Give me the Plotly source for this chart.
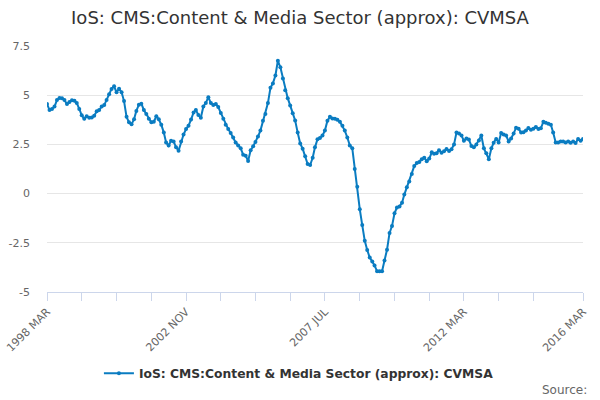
import plotly.graph_objects as go
import pandas as pd

series_name = "IoS: CMS:Content & Media Sector (approx): CVMSA"
start_month = "1998-03-01"
values = [
    4.55, 4.25, 4.3, 4.42, 4.75, 4.86, 4.85, 4.75, 4.55, 4.65,
    4.74, 4.72, 4.6, 4.3, 3.98, 3.8, 3.93, 3.85, 3.87, 3.95,
    4.18, 4.25, 4.43, 4.5, 4.75, 5.05, 5.32, 5.45, 5.15, 5.33,
    5.15, 4.7, 3.9, 3.62, 3.52, 3.78, 4.2, 4.52, 4.57, 4.25,
    4.05, 3.8, 3.62, 3.65, 3.93, 3.78, 3.5, 3.1, 2.6, 2.44,
    2.68, 2.65, 2.35, 2.18, 2.65, 3.0, 3.28, 3.45, 3.76, 4.12,
    4.25, 4.0, 3.85, 4.43, 4.6, 4.9, 4.6, 4.5, 4.55, 4.4,
    4.1, 3.8, 3.5, 3.28, 3.08, 2.85, 2.6, 2.45, 2.3, 1.98,
    1.92, 1.66, 2.2, 2.4, 2.62, 2.9, 3.2, 3.7, 4.05, 4.6,
    5.38, 5.6, 6.0, 6.75, 6.42, 5.85, 5.25, 4.85, 4.48, 4.08,
    3.72, 3.1, 2.55, 2.28, 1.9, 1.5, 1.45, 1.82, 2.35, 2.76,
    2.82, 2.95, 3.2, 3.7, 3.9, 3.82, 3.8, 3.75, 3.65, 3.45,
    3.2, 2.85, 2.45, 2.3, 1.25, 0.35, -0.8, -1.6, -2.4, -2.87,
    -3.25, -3.45, -3.65, -3.95, -3.95, -3.95, -3.4, -2.85, -2.0, -1.65,
    -1.0, -0.7, -0.65, -0.47, -0.05, 0.32, 0.62, 1.0, 1.4, 1.55,
    1.6, 1.75, 1.82, 1.65, 1.78, 2.1, 2.02, 2.05, 2.2, 2.08,
    2.15, 2.27, 2.17, 2.25, 2.5, 3.1, 3.05, 2.95, 2.68, 2.8,
    2.75, 2.42, 2.35, 2.5, 2.7, 2.95, 2.3, 2.05, 1.75, 2.3,
    2.58, 2.78, 2.6, 3.08, 3.0, 2.95, 2.65, 2.8, 3.05, 3.35,
    3.3, 3.1, 3.12, 3.2, 3.33, 3.25, 3.3, 3.38, 3.28, 3.32,
    3.65, 3.6, 3.55, 3.5, 3.1, 2.6, 2.6, 2.65, 2.65, 2.6,
    2.65, 2.58, 2.65, 2.57, 2.78, 2.68, 2.78,
]
dates = pd.date_range(start_month, periods=len(values), freq="MS")

tick_step_months = 14
tick_idx = list(range(0, len(values) - 14, tick_step_months)) + [len(values) - 1]
labelled = {0: "1998 MAR", 56: "2002 NOV", 112: "2007 JUL", 168: "2012 MAR", 216: "2016 MAR"}
tick_vals = [dates[i] for i in tick_idx]
tick_text = [labelled.get(i, "") for i in tick_idx]

y_ticks = [-5, -2.5, 0, 2.5, 5, 7.5]
y_labels = ["-5", "-2.5", "0", "2.5", "5", "7.5"]

color = "#0a7cc1"
font = "DejaVu Sans"

fig = go.Figure()
fig.add_trace(go.Scatter(
    x=dates, y=values, mode="lines+markers", name=series_name,
    line=dict(color=color, width=2),
    marker=dict(color=color, size=4),
))

fig.update_layout(
    width=600, height=400,
    paper_bgcolor="white", plot_bgcolor="white",
    margin=dict(l=47, r=17, t=46, b=108, autoexpand=False),
    font=dict(family=font, color="#666666", size=11),
    title=dict(text=series_name, x=0.5, xanchor="center", y=0.955, yanchor="middle",
               font=dict(family=font, size=18, color="#333333")),
    showlegend=True,
    legend=dict(orientation="h", x=0.47, xanchor="center", y=-0.33, yanchor="middle",
                itemwidth=30,
                font=dict(family=font, size=12.3, color="#333333", weight="bold")),
    xaxis=dict(
        type="date", range=[dates[0], dates[-1]], automargin=False,
        tickmode="array", tickvals=tick_vals, ticktext=tick_text,
        tickangle=-45, ticks="outside", ticklen=8, tickcolor="#ccd6eb",
        ticklabeloverflow="allow",
        showline=True, linecolor="#ccd6eb", linewidth=1,
        showgrid=False, zeroline=False,
        tickfont=dict(family=font, size=11, color="#666666"),
    ),
    yaxis=dict(
        range=[-5, 7.5], tickmode="array", tickvals=y_ticks, ticktext=y_labels,
        automargin=False,
        showgrid=True, gridcolor="#e6e6e6", gridwidth=1,
        zeroline=False, showline=False, ticks="", ticklabelstandoff=16,
        tickfont=dict(family=font, size=11, color="#666666"),
    ),
    annotations=[dict(text="Source:", xref="paper", yref="paper", x=1.012, y=-0.4,
                      xanchor="right", yanchor="middle", showarrow=False,
                      font=dict(family=font, size=12, color="#666666"))],
)

fig.write_html("out.html", config={"displayModeBar": False},
               post_script="document.body.style.margin='0';")
